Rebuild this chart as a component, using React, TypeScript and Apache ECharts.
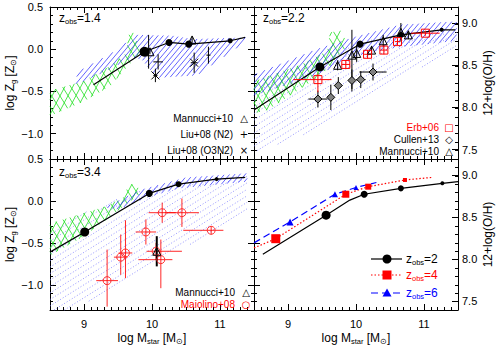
import React, { useEffect, useRef } from "react";
import * as echarts from "echarts";

const FONT = "'Liberation Sans', Arial, Helvetica, sans-serif";

// ---------- axes ----------
const X_RANGE = [8.5, 11.5];
const Y_RANGE = [-1.3, 0.5];
const OH_OFFSET = 8.69;
const xTicks = [9, 10, 11];
const yTicks = [-1.0, -0.5, 0.0, 0.5];
const ohTicks = [7.5, 8.0, 8.5, 9.0];
const MINOR_STEP = 0.1;

// ---------- panel 1 : z_obs = 1.4 ----------
const p1ModelX = [9.14, 9.89, 10.25, 10.54, 11.15, 11.37];
const p1ModelY = [-0.42, -0.03, 0.08, 0.06, 0.1, 0.14];
const p1DotX = [9.89, 10.25, 10.54, 11.15];
const p1DotY = [-0.03, 0.08, 0.06, 0.1];
const p1MannucciX = [9.97, 10.59];
const p1MannucciY = [-0.03, 0.11];
const p1MannucciYErr = [0.03, 0.04];
const p1LiuN2X = [9.95, 10.09, 10.83];
const p1LiuN2Y = [-0.03, -0.15, -0.07];
const p1LiuN2XErr = [0, 0.07, 0.03];
const p1LiuN2YErr = [0.2, 0.09, 0.1];
const p1LiuO3X = [10.05, 10.62];
const p1LiuO3Y = [-0.31, -0.16];
const p1LiuO3XErr = [0.03, 0.05];
const p1LiuO3YErr = [0.08, 0.12];
const p1BlueRegion = [[8.88, -0.42], [8.9, -0.27], [9.4, -0.05], [9.78, 0.17], [10.3, 0.16], [10.6, 0.12], [11.4, 0.14], [11.4, 0.1], [10.66, -0.31], [10.07, -0.34], [9.85, -0.12], [9.7, -0.1], [9.3, -0.27]];
const p1GreenRegion = [[8.5, -0.49], [8.99, -0.38], [9.38, -0.2], [9.62, -0.05], [9.66, 0.17], [9.74, 0.2], [9.82, -0.04], [9.38, -0.44], [8.99, -0.62], [8.5, -0.79]];

// ---------- panel 2 : z_obs = 2.2 ----------
const p2ModelX = [8.5, 9.47, 10.06, 10.66, 11.26, 11.46];
const p2ModelY = [-0.72, -0.21, 0.06, 0.17, 0.23, 0.23];
const p2DotX = [9.47, 10.06, 10.66, 11.26];
const p2DotY = [-0.21, 0.06, 0.17, 0.23];
const p2ErbX = [9.44, 9.85, 10.17, 10.41, 10.61, 11.02];
const p2ErbY = [-0.36, -0.18, -0.06, -0.01, 0.09, 0.19];
const p2ErbXErr: Err[] = [[0.36, 0.2], 0.06, 0.05, 0.05, 0.04, 0.21];
const p2ErbYErr: Err[] = [[0.15, 0.07], 0.05, 0.05, 0.05, 0.04, 0.03];
const p2CullenX = [9.44, 9.63, 9.74, 9.94, 10.07, 10.25];
const p2CullenY = [-0.59, -0.57, -0.43, -0.37, -0.36, -0.27];
const p2CullenXErr = [0.14, 0.05, 0.06, 0.05, 0.07, 0.2];
const p2CullenYErr = [0.1, 0.15, 0.1, 0.13, 0.1, 0.1];
const p2MannucciX = [9.73, 9.94, 10.01, 10.23, 10.4, 10.66, 10.77];
const p2MannucciY = [-0.19, -0.07, -0.05, -0.01, 0.1, 0.2, 0.17];
const p2MannucciYErr: Err[] = [0.06, [0.4, 0.3], 0.1, 0.05, 0.07, 0.11, 0.05];
const p2BlueRegion = [[8.5, -0.3], [9.42, 0.0], [10.0, 0.15], [10.65, 0.29], [11.48, 0.33], [11.48, 0.1], [10.6, 0.02], [10.0, -0.08], [9.5, -0.28], [8.5, -0.55]];
const p2DotRegion = [[8.5, -0.45], [9.47, -0.15], [10.06, 0.1], [11.48, 0.2], [11.48, 0.03], [10.72, -0.33], [10.0, -0.68], [9.4, -0.96], [8.6, -1.2], [8.5, -1.2]];
const p2GreenRegion = [[8.5, -0.38], [9.2, -0.18], [9.58, -0.02], [9.62, 0.2], [9.78, 0.22], [9.88, 0.05], [9.5, -0.3], [8.7, -0.72], [8.5, -0.76]];

// ---------- panel 3 : z_obs = 3.4 ----------
const p3ModelX = [8.5, 9.01, 9.96, 10.39, 10.95, 11.37];
const p3ModelY = [-0.61, -0.37, 0.09, 0.2, 0.26, 0.28];
const p3DotX = [9.01, 9.96, 10.39, 10.95];
const p3DotY = [-0.37, 0.09, 0.2, 0.26];
const p3MaiolinoX = [9.34, 9.54, 9.61, 9.91, 10.15, 10.44, 10.87, 10.06, 10.13];
const p3MaiolinoY = [-0.95, -0.67, -0.62, -0.37, -0.14, -0.14, -0.35, -0.6, -0.7];
const p3MaiolinoXErr: Err[] = [0.16, 0.1, 0.1, 0.15, 0.2, 0.25, [0.41, 0.18], [0.14, 0.38], [0.33, 0.17]];
const p3MaiolinoYErr: Err[] = [[0.31, 0.37], [0.21, 0.27], [0.3, 0.39], 0.15, 0.12, 0.17, 0.05, 0.1, [0.34, 0.24]];
const p3MannucciX = [10.07];
const p3MannucciY = [-0.6];
const p3MannucciYErr = [0.18];
const p3BlueRegion = [[9.3, -0.08], [9.82, 0.13], [10.5, 0.28], [11.4, 0.33], [11.4, 0.23], [10.4, 0.15], [9.96, 0.05], [9.5, -0.1]];
const p3DotRegion = [[8.5, -0.33], [9.24, -0.05], [9.82, 0.12], [10.5, 0.25], [11.4, 0.3], [11.4, -0.15], [10.51, -0.54], [9.82, -0.86], [9.24, -1.14], [8.75, -1.3], [8.5, -1.3]];
const p3GreenRegion = [[8.5, -0.27], [9.3, -0.07], [9.6, 0.05], [9.65, 0.2], [9.75, 0.2], [9.85, 0.1], [9.0, -0.42], [8.5, -0.65]];

// ---------- panel 4 : model tracks ----------
const p4Z2X = [8.63, 9.56, 9.91, 10.12, 10.66, 11.27, 11.5];
const p4Z2Y = [-0.635, -0.17, 0.01, 0.08, 0.15, 0.21, 0.23];
const p4Z2MarkX = [9.56, 10.12, 10.66, 11.27];
const p4Z2MarkY = [-0.17, 0.08, 0.15, 0.21];
const p4Z4X = [8.5, 8.82, 9.85, 10.18, 10.72, 11.11];
const p4Z4Y = [-0.56, -0.45, 0.08, 0.17, 0.25, 0.28];
const p4Z4MarkX = [8.82, 9.85, 10.18, 10.72];
const p4Z4MarkY = [-0.45, 0.08, 0.17, 0.25];
const p4Z6X = [8.5, 9.03, 9.69, 10.0, 10.3];
const p4Z6Y = [-0.5, -0.25, 0.08, 0.16, 0.22];
const p4Z6MarkX = [9.03, 9.69, 10.0];
const p4Z6MarkY = [-0.25, 0.08, 0.16];

// marker sizes (style)
const SIZE4 = [10, 7, 7, 5];
const SIZE4B = [9, 7, 6, 4];
const SIZE3 = [7, 6, 5];

type Err = number | [number, number];
const pair = (e: Err): [number, number] => (Array.isArray(e) ? e : [e, e]);

interface Hatch { angle: number; spacing: number; color: string; width?: number; dash?: number[] }
const H_BLUE: Hatch = { angle: 50, spacing: 4, color: "#2020ff", width: 0.7 };
const H_DOT: Hatch = { angle: 32, spacing: 5.5, color: "#7a7aff", width: 0.8, dash: [1, 2] };
const H_GREEN_A: Hatch = { angle: 62, spacing: 7, color: "#20e020", width: 0.8 };
const H_GREEN_B: Hatch = { angle: 122, spacing: 7, color: "#20e020", width: 0.8 };

function hatchSegments(poly: number[][], angleDeg: number, spacing: number) {
  const a = (angleDeg * Math.PI) / 180;
  const dx = Math.cos(a), dy = -Math.sin(a);
  const nx = -dy, ny = dx;
  let minP = Infinity, maxP = -Infinity;
  for (const [x, y] of poly) {
    const p = x * nx + y * ny;
    minP = Math.min(minP, p);
    maxP = Math.max(maxP, p);
  }
  const segs: number[][] = [];
  for (let p = Math.ceil(minP / spacing) * spacing; p <= maxP; p += spacing) {
    const ts: number[] = [];
    for (let i = 0; i < poly.length; i++) {
      const [x1, y1] = poly[i];
      const [x2, y2] = poly[(i + 1) % poly.length];
      const p1 = x1 * nx + y1 * ny, p2 = x2 * nx + y2 * ny;
      if ((p1 <= p && p2 > p) || (p2 <= p && p1 > p)) {
        const f = (p - p1) / (p2 - p1);
        const ix = x1 + f * (x2 - x1), iy = y1 + f * (y2 - y1);
        ts.push(ix * dx + iy * dy);
      }
    }
    ts.sort((u, v) => u - v);
    for (let k = 0; k + 1 < ts.length; k += 2) {
      segs.push([p * nx + ts[k] * dx, p * ny + ts[k] * dy, p * nx + ts[k + 1] * dx, p * ny + ts[k + 1] * dy]);
    }
  }
  return segs;
}

function hatchSeries(g: number, region: number[][], hatches: Hatch[]) {
  return {
    type: "custom", xAxisIndex: g * 4, yAxisIndex: g * 4, silent: true, z: 1,
    data: [[region[0][0], region[0][1]]],
    renderItem: (_p: any, api: any) => {
      const pts = region.map((pt) => api.coord(pt));
      const children: any[] = [];
      hatches.forEach((h) => {
        hatchSegments(pts, h.angle, h.spacing).forEach((s) => {
          const style: any = { stroke: h.color, lineWidth: h.width ?? 0.8 };
          if (h.dash) style.lineDash = h.dash;
          children.push({ type: "line", shape: { x1: s[0], y1: s[1], x2: s[2], y2: s[3] }, style });
        });
      });
      return { type: "group", children };
    },
  };
}

function errorSeries(g: number, xs: number[], ys: number[], xErr: Err[] | null, yErr: Err[] | null, color: string, width = 1, cross = 0) {
  return {
    type: "custom", xAxisIndex: g * 4, yAxisIndex: g * 4, silent: true, z: 4,
    data: xs.map((x, k) => [x, ys[k], k]),
    renderItem: (_p: any, api: any) => {
      const x = api.value(0), y = api.value(1), k = api.value(2);
      const st = { stroke: color, lineWidth: width };
      const ch: any[] = [];
      const seg = (a: number[], b: number[]) => ch.push({ type: "line", shape: { x1: a[0], y1: a[1], x2: b[0], y2: b[1] }, style: st });
      if (xErr) {
        const [lo, hi] = pair(xErr[k]);
        if (lo || hi) seg(api.coord([x - lo, y]), api.coord([x + hi, y]));
      }
      if (yErr) {
        const [lo, hi] = pair(yErr[k]);
        if (lo || hi) seg(api.coord([x, y - lo]), api.coord([x, y + hi]));
      }
      if (cross) {
        const c = api.coord([x, y]);
        seg([c[0] - cross, c[1] - cross], [c[0] + cross, c[1] + cross]);
        seg([c[0] - cross, c[1] + cross], [c[0] + cross, c[1] - cross]);
      }
      return { type: "group", children: ch };
    },
  };
}

function lineSeries(g: number, xs: number[], ys: number[], color = "#000", type: any = "solid", width = 1.2) {
  return {
    type: "line", xAxisIndex: g * 4, yAxisIndex: g * 4, silent: true, z: 3,
    data: xs.map((x, k) => [x, ys[k]]), symbol: "none",
    lineStyle: { color, width, type },
  };
}

function markerSeries(g: number, xs: number[], ys: number[], symbol: string, size: number | number[], fill: string, stroke: string, bw = 1) {
  return {
    type: "scatter", xAxisIndex: g * 4, yAxisIndex: g * 4, silent: true, z: 5,
    data: xs.map((x, k) => [x, ys[k]]), symbol,
    symbolSize: Array.isArray(size) ? (_v: any, p: any) => size[p.dataIndex] : size,
    itemStyle: { color: fill, borderColor: stroke, borderWidth: bw, opacity: 1 },
  };
}

const RICH = {
  t: { fontSize: 12, fontFamily: FONT, color: "#000" },
  s: { fontSize: 7.5, fontFamily: FONT, color: "#000", padding: [6, 0, 0, 0] },
};

function buildAxes() {
  const xAxis: any[] = [];
  const yAxis: any[] = [];
  const tickLine = { color: "#000", width: 1 };
  const labelStyle = { color: "#000", fontSize: 11, fontFamily: FONT };
  const yFmt = (v: number) => v.toFixed(1).replace("-", "\u2212");
  for (let g = 0; g < 4; g++) {
    const bottomRow = g >= 2;
    const rightCol = g % 2 === 1;
    const cx = { gridIndex: g, type: "value", min: X_RANGE[0], max: X_RANGE[1], splitLine: { show: false } };
    xAxis.push({
      ...cx, position: "bottom",
      axisLine: { show: true, onZero: false, lineStyle: tickLine },
      axisTick: { show: true, inside: true, length: 6, customValues: xTicks, lineStyle: tickLine },
      axisLabel: { show: bottomRow, customValues: xTicks, margin: 8, formatter: (v: number) => String(v), ...labelStyle },
      name: bottomRow ? "{t|log M}{s|star}{t| [M}{s|\u2299}{t|]}" : "",
      nameLocation: "middle", nameGap: 21, nameTextStyle: { rich: RICH },
    });
    xAxis.push({ ...cx, position: "bottom", interval: MINOR_STEP, axisLine: { show: false, onZero: false }, axisTick: { show: true, inside: true, length: 3, lineStyle: tickLine }, axisLabel: { show: false } });
    xAxis.push({
      ...cx, position: "top",
      axisLine: { show: true, onZero: false, lineStyle: tickLine },
      axisTick: { show: true, inside: true, length: 6, customValues: xTicks, lineStyle: tickLine },
      axisLabel: { show: false },
    });
    xAxis.push({ ...cx, position: "top", interval: MINOR_STEP, axisLine: { show: false, onZero: false }, axisTick: { show: true, inside: true, length: 3, lineStyle: tickLine }, axisLabel: { show: false } });

    const cy = { gridIndex: g, type: "value", min: Y_RANGE[0], max: Y_RANGE[1], splitLine: { show: false } };
    yAxis.push({
      ...cy, position: "left",
      axisLine: { show: true, onZero: false, lineStyle: tickLine },
      axisTick: { show: true, inside: true, length: 6, customValues: yTicks, lineStyle: tickLine },
      axisLabel: { show: !rightCol, customValues: yTicks, margin: 7, formatter: yFmt, ...labelStyle },
      name: !rightCol ? "{t|log Z}{s|g}{t| [Z}{s|\u2299}{t|]}" : "",
      nameLocation: "middle", nameRotate: 90, nameGap: 31, nameTextStyle: { rich: RICH },
    });
    yAxis.push({ ...cy, position: "left", interval: MINOR_STEP, axisLine: { show: false, onZero: false }, axisTick: { show: true, inside: true, length: 3, lineStyle: tickLine }, axisLabel: { show: false } });
    if (rightCol) {
      yAxis.push({
        gridIndex: g, type: "value", position: "right",
        min: Y_RANGE[0] + OH_OFFSET, max: Y_RANGE[1] + OH_OFFSET, splitLine: { show: false },
        axisLine: { show: true, onZero: false, lineStyle: tickLine },
        axisTick: { show: true, inside: true, length: 6, customValues: ohTicks, lineStyle: tickLine },
        axisLabel: { show: true, customValues: ohTicks, margin: 4, formatter: yFmt, ...labelStyle },
        name: "{t|12+log(O/H)}", nameLocation: "middle", nameRotate: 90, nameGap: 24, nameTextStyle: { rich: RICH },
      });
    } else {
      yAxis.push({
        ...cy, position: "right",
        axisLine: { show: true, onZero: false, lineStyle: tickLine },
        axisTick: { show: true, inside: true, length: 6, customValues: yTicks, lineStyle: tickLine },
        axisLabel: { show: false },
      });
    }
    yAxis.push({ ...cy, position: "right", interval: MINOR_STEP, axisLine: { show: false, onZero: false }, axisTick: { show: true, inside: true, length: 3, lineStyle: tickLine }, axisLabel: { show: false } });
  }
  return { xAxis, yAxis };
}

function legendRow(xRight: number, y: number, text: string, glyph: string, color: string, glyphX: number) {
  return [
    { type: "text", x: xRight, y, z: 100, style: { text, fill: color, font: `10px ${FONT}`, textAlign: "right", textVerticalAlign: "middle" } },
    { type: "text", x: glyphX, y, z: 100, style: { text: glyph, fill: color, font: `10px 'DejaVu Sans'`, textAlign: "center", textVerticalAlign: "middle" } },
  ];
}

const ZRICH = (color: string) => ({
  z: { fontSize: 12, fontFamily: FONT, fill: color, color },
  s: { fontSize: 7.5, fontFamily: FONT, fill: color, color, padding: [6, 0, 0, 0] },
});

function zLabel(x: number, y: number, val: string, color = "#000", align = "left") {
  return { type: "text", x, y, z: 100, style: { text: `{z|z}{s|obs}{z|=${val}}`, rich: ZRICH(color), textAlign: align, textVerticalAlign: "middle" } };
}

function buildGraphic() {
  const els: any[] = [];
  els.push(zLabel(59, 18, "1.4"), zLabel(263, 18, "2.2"), zLabel(59, 172, "3.4"));
  els.push(...legendRow(233, 118, "Mannucci+10", "\u25B3", "#000", 244));
  els.push(...legendRow(233, 134, "Liu+08 (N2)", "+", "#000", 244));
  els.push(...legendRow(233, 150, "Liu+08 (O3N2)", "\u00D7", "#000", 244));
  els.push(...legendRow(439, 127, "Erb+06", "\u25A1", "#ff0000", 449));
  els.push(...legendRow(439, 139, "Cullen+13", "\u25C7", "#000", 449));
  els.push(...legendRow(439, 151, "Mannucci+10", "\u25B3", "#000", 449));
  els.push(...legendRow(235, 292, "Mannucci+10", "\u25B3", "#000", 246));
  els.push(...legendRow(235, 304, "Maiolino+08", "\u25CB", "#ff0000", 246));
  // model legend (bottom-right)
  const rows = [
    { y: 259, color: "#000", dash: null as any, sym: "circle", label: "2" },
    { y: 275, color: "#ff0000", dash: [1.5, 2], sym: "rect", label: "4" },
    { y: 293, color: "#0000ff", dash: [7, 4], sym: "tri", label: "6" },
  ];
  rows.forEach((r) => {
    const ls: any = { stroke: r.color, lineWidth: 1.2 };
    if (r.dash) ls.lineDash = r.dash;
    els.push({ type: "line", z: 100, shape: { x1: 371, y1: r.y, x2: 402, y2: r.y }, style: ls });
    if (r.sym === "circle") els.push({ type: "circle", z: 101, shape: { cx: 387, cy: r.y, r: 4.5 }, style: { fill: r.color } });
    if (r.sym === "rect") els.push({ type: "rect", z: 101, shape: { x: 382.5, y: r.y - 4.5, width: 9, height: 9 }, style: { fill: r.color } });
    if (r.sym === "tri") els.push({ type: "polygon", z: 101, shape: { points: [[387, r.y - 4.5], [391.5, r.y + 3.5], [382.5, r.y + 3.5]] }, style: { fill: r.color } });
    els.push(zLabel(406, r.y, r.label, r.color));
  });
  return els;
}

function buildOption() {
  const { xAxis, yAxis } = buildAxes();
  const grid = [
    { left: 50, top: 7, width: 204, height: 152 },
    { left: 254, top: 7, width: 204, height: 152 },
    { left: 50, top: 159, width: 204, height: 151 },
    { left: 254, top: 159, width: 204, height: 151 },
  ].map((gr) => ({ ...gr, containLabel: false, outerBoundsMode: "none", show: false }));

  const series: any[] = [
    // panel 1
    hatchSeries(0, p1GreenRegion, [H_GREEN_A, H_GREEN_B]),
    hatchSeries(0, p1BlueRegion, [H_BLUE]),
    lineSeries(0, p1ModelX, p1ModelY),
    markerSeries(0, p1DotX, p1DotY, "circle", SIZE4, "#000", "#000", 0),
    errorSeries(0, p1MannucciX, p1MannucciY, null, p1MannucciYErr, "#000"),
    markerSeries(0, p1MannucciX, p1MannucciY, "triangle", 8, "transparent", "#000"),
    errorSeries(0, p1LiuN2X, p1LiuN2Y, p1LiuN2XErr, p1LiuN2YErr, "#000"),
    errorSeries(0, p1LiuO3X, p1LiuO3Y, p1LiuO3XErr, p1LiuO3YErr, "#000", 1, 4),
    // panel 2
    hatchSeries(1, p2DotRegion, [H_DOT]),
    hatchSeries(1, p2GreenRegion, [H_GREEN_A, H_GREEN_B]),
    hatchSeries(1, p2BlueRegion, [H_BLUE]),
    lineSeries(1, p2ModelX, p2ModelY),
    markerSeries(1, p2DotX, p2DotY, "circle", SIZE4B, "#000", "#000", 0),
    errorSeries(1, p2CullenX, p2CullenY, p2CullenXErr, p2CullenYErr, "#000"),
    markerSeries(1, p2CullenX, p2CullenY, "diamond", 8, "#808080", "#000"),
    errorSeries(1, p2MannucciX, p2MannucciY, null, p2MannucciYErr, "#000"),
    markerSeries(1, p2MannucciX, p2MannucciY, "triangle", 8, "transparent", "#000"),
    errorSeries(1, p2ErbX, p2ErbY, p2ErbXErr, p2ErbYErr, "#ff0000"),
    markerSeries(1, p2ErbX, p2ErbY, "rect", 8, "transparent", "#ff0000"),
    // panel 3
    hatchSeries(2, p3DotRegion, [H_DOT]),
    hatchSeries(2, p3GreenRegion, [H_GREEN_A, H_GREEN_B]),
    hatchSeries(2, p3BlueRegion, [H_BLUE]),
    lineSeries(2, p3ModelX, p3ModelY),
    markerSeries(2, p3DotX, p3DotY, "circle", SIZE4B, "#000", "#000", 0),
    errorSeries(2, p3MaiolinoX, p3MaiolinoY, p3MaiolinoXErr, p3MaiolinoYErr, "rgba(255,0,0,0.85)"),
    markerSeries(2, p3MaiolinoX, p3MaiolinoY, "circle", 8, "transparent", "#ff3030"),
    errorSeries(2, p3MannucciX, p3MannucciY, null, p3MannucciYErr, "#000", 2),
    markerSeries(2, p3MannucciX, p3MannucciY, "triangle", 8, "transparent", "#000"),
    // panel 4
    lineSeries(3, p4Z2X, p4Z2Y, "#000", "solid", 1.2),
    markerSeries(3, p4Z2MarkX, p4Z2MarkY, "circle", SIZE4B, "#000", "#000", 0),
    lineSeries(3, p4Z4X, p4Z4Y, "#ff0000", [1.5, 2], 1.2),
    markerSeries(3, p4Z4MarkX, p4Z4MarkY, "rect", SIZE4B, "#ff0000", "#ff0000", 0),
    lineSeries(3, p4Z6X, p4Z6Y, "#0000ff", [7, 4], 1.2),
    markerSeries(3, p4Z6MarkX, p4Z6MarkY, "triangle", SIZE3, "#0000ff", "#0000ff", 0),
  ];

  return {
    animation: false,
    backgroundColor: "#fff",
    textStyle: { fontFamily: FONT },
    grid,
    xAxis,
    yAxis,
    series,
    graphic: { elements: buildGraphic() },
  };
}

export default function App() {
  const ref = useRef<HTMLDivElement>(null);
  useEffect(() => {
    if (!ref.current) return;
    const chart = echarts.init(ref.current, null, { renderer: "svg" });
    chart.setOption(buildOption() as any);
    return () => chart.dispose();
  }, []);
  return <div ref={ref} style={{ position: "absolute", left: 0, top: 0, width: 498, height: 345, background: "#fff" }} />;
}
